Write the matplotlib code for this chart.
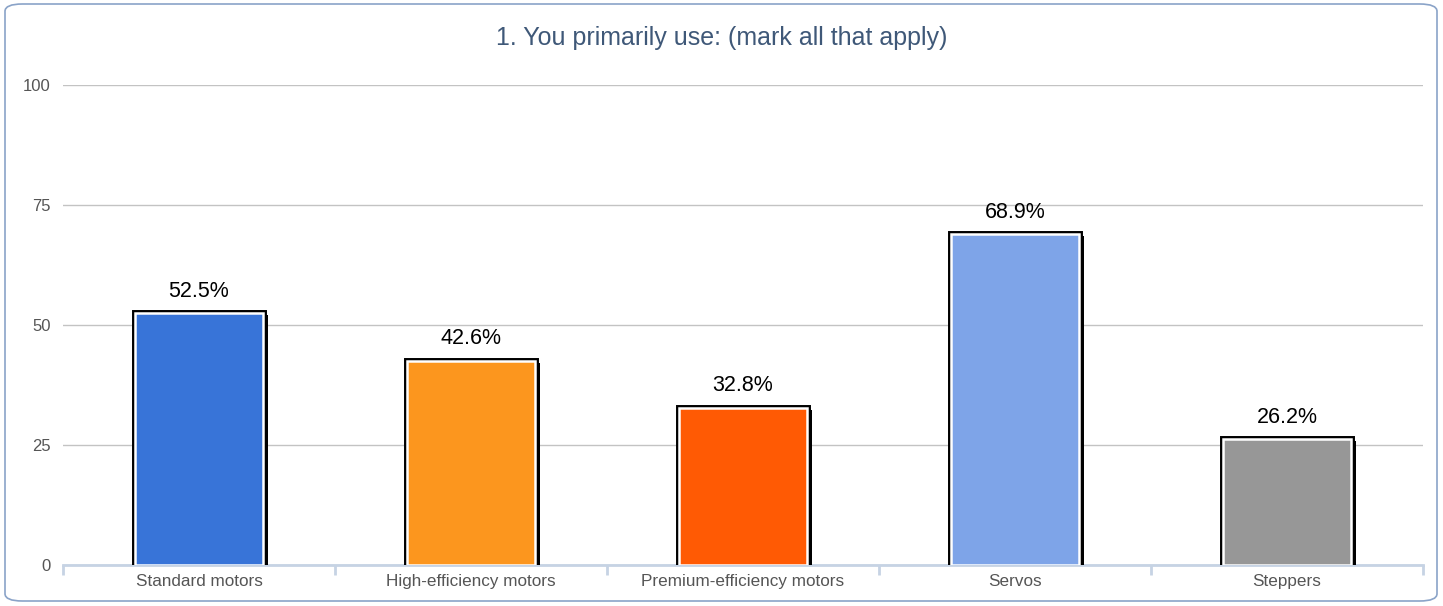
import matplotlib
matplotlib.use("Agg")
import matplotlib.pyplot as plt
import matplotlib.patheffects as pe
from matplotlib.patches import FancyBboxPatch

plt.rcParams['font.family'] = ['Liberation Sans', 'DejaVu Sans']

title = "1. You primarily use: (mark all that apply)"
categories = ["Standard motors", "High-efficiency motors", "Premium-efficiency motors",
              "Servos", "Steppers"]
values = [52.5, 42.6, 32.8, 68.9, 26.2]
colors = ["#3874d8", "#fc961e", "#ff5a04", "#7ea4e8", "#979797"]
yticks = [0, 25, 50, 75, 100]

fig = plt.figure(figsize=(14.43, 6.06), dpi=100)

# rounded outer frame
frame = FancyBboxPatch((5 / 1443, 5 / 606), 1432 / 1443, 597 / 606,
                       boxstyle="round,pad=0,rounding_size=0.012",
                       transform=fig.transFigure, facecolor="none",
                       edgecolor="#8aa3c8", linewidth=1.2, zorder=-1)
fig.patches.append(frame)

ax = fig.add_axes([63 / 1443, 1 - 565 / 606, 1360 / 1443, 480 / 606])
ax.set_facecolor("none")
ax.set_xlim(-0.5, len(categories) - 0.5)
ax.set_ylim(0, 100)

for s in ["top", "right", "left"]:
    ax.spines[s].set_visible(False)
ax.spines["bottom"].set_color("#c6d3e4")
ax.spines["bottom"].set_linewidth(2)
ax.spines["bottom"].set_zorder(1)

ax.set_yticks(yticks)
ax.set_yticklabels([str(v) for v in yticks], color="#555555", fontsize=12)
ax.tick_params(axis="y", length=0, pad=9)
ax.grid(axis="y", color="#c3c3c3", linewidth=1)
ax.set_axisbelow(True)

# category labels centred, ticks on category boundaries
x = list(range(len(categories)))
ax.set_xticks(x)
ax.set_xticklabels(categories, color="#555555", fontsize=12.3)
ax.tick_params(axis="x", which="major", length=0, pad=6.5)
ax.set_xticks([i - 0.5 for i in range(len(categories) + 1)], minor=True)
ax.tick_params(axis="x", which="minor", length=7, width=2, color="#c6d3e4")

bars = ax.bar(x, values, width=0.47, color=colors, edgecolor="white",
              linewidth=1.8, zorder=3)
for b in bars:
    b.set_path_effects([
        pe.SimplePatchShadow(offset=(4, -1.5), shadow_rgbFace="black", alpha=1.0),
        pe.Stroke(linewidth=5, foreground="black"),
        pe.Normal(),
    ])

for xi, v in zip(x, values):
    ax.annotate(f"{v}%", (xi, v), xytext=(0, 8), textcoords="offset points",
                ha="center", va="bottom", fontsize=15.5, color="black")

fig.text(0.5, 1 - 38 / 606, title, ha="center", va="center",
         fontsize=18, color="#3f5878")

fig.savefig("out.png", dpi=100)
